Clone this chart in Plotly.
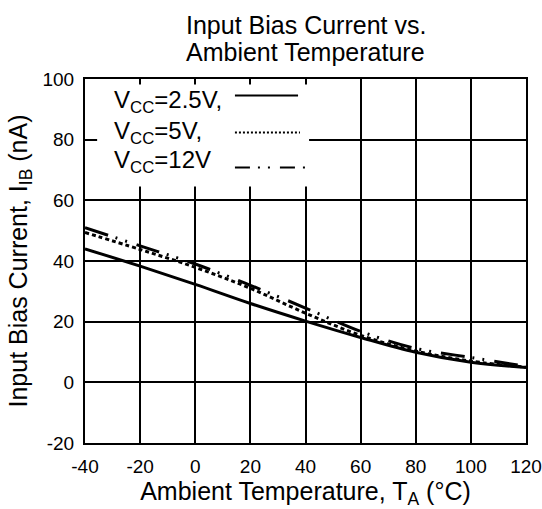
import plotly.graph_objects as go

temps = [-40, -20, 0, 20, 40, 60, 80, 100, 120]
ib_2v5 = [44.0, 38.3, 32.3, 26.0, 20.2, 14.8, 9.9, 6.6, 4.9]
ib_5v = [49.4, 43.8, 37.9, 31.0, 22.8, 15.5, 10.3, 7.0, 5.0]
ib_12v = [51.0, 45.0, 39.0, 32.0, 24.5, 16.8, 11.2, 8.2, 5.3]

x_ticks = [-40, -20, 0, 20, 40, 60, 80, 100, 120]
x_labels = ["-40", "-20", "0", "20", "40", "60", "80", "100", "120"]
y_ticks = [-20, 0, 20, 40, 60, 80, 100]
y_labels = ["-20", "0", "20", "40", "60", "80", "100"]

legend_labels = ["V<sub>CC</sub>=2.5V,", "V<sub>CC</sub>=5V,", "V<sub>CC</sub>=12V"]

FONT = "Liberation Sans"
fig = go.Figure()

fig.add_trace(go.Scatter(x=temps, y=ib_2v5, mode="lines",
                         line=dict(color="black", width=3, shape="spline"), showlegend=False))
fig.add_trace(go.Scatter(x=temps, y=ib_5v, mode="lines",
                         line=dict(color="black", width=3, dash="4px,3px", shape="spline"), showlegend=False))
fig.add_trace(go.Scatter(x=temps, y=ib_12v, mode="lines",
                         line=dict(color="black", width=3, dash="24px,8px,2px,8px,2px,10px", shape="spline"),
                         showlegend=False))

# legend box (white, covers gridlines)
fig.add_shape(type="rect", xref="x", yref="y", x0=-35.6, x1=41.3, y0=64.6, y1=98.2,
              fillcolor="white", line=dict(width=0), layer="above")

annots = []
leg_y_text = [92.6, 82.4, 72.8]
leg_y_line = [94.6, 82.4, 70.8]
leg_x1 = [37.3, 38.0, 39.8]
leg_dash = ["solid", "2px,2px", "15px,8px,2px,8px,2px,10px"]
for lbl, yt, yl, x1, d in zip(legend_labels, leg_y_text, leg_y_line, leg_x1, leg_dash):
    annots.append(dict(x=-30.2, y=yt, xref="x", yref="y", text=lbl, showarrow=False,
                       xanchor="left", yanchor="middle", font=dict(family=FONT, size=24, color="black")))
    fig.add_shape(type="line", xref="x", yref="y", x0=14.4, x1=x1, y0=yl, y1=yl,
                  line=dict(color="black", width=2, dash=d), layer="above")

annots.append(dict(x=0.5, y=1, xref="paper", yref="paper", yshift=54, text="Input Bias Current vs.",
                   showarrow=False, yanchor="middle", font=dict(family=FONT, size=25, color="black")))
annots.append(dict(x=0.5, y=1, xref="paper", yref="paper", yshift=27, text="Ambient Temperature",
                   showarrow=False, yanchor="middle", font=dict(family=FONT, size=25, color="black")))

fig.update_layout(
    annotations=annots,
    width=542, height=509,
    margin=dict(l=85, r=16, t=79, b=66, autoexpand=False),
    paper_bgcolor="white", plot_bgcolor="white",
    font=dict(family=FONT, color="black"),
    xaxis=dict(range=[-40, 120], tickvals=x_ticks, ticktext=x_labels, showgrid=True,
               gridcolor="black", gridwidth=2, automargin=False,
               showline=True, linecolor="black", linewidth=2, mirror=True, zeroline=False,
               ticks="", tickfont=dict(size=19, family=FONT), ticklabelstandoff=5,
               title=dict(text="Ambient Temperature, T<sub>A</sub> (°C)",
                          font=dict(size=25, family=FONT), standoff=4)),
    yaxis=dict(range=[-20, 100], tickvals=y_ticks, ticktext=y_labels, showgrid=True,
               gridcolor="black", gridwidth=2, automargin=False,
               showline=True, linecolor="black", linewidth=2, mirror=True, zeroline=False,
               ticks="", tickfont=dict(size=19, family=FONT), ticklabelstandoff=5,
               title=dict(text="Input Bias Current, I<sub>IB</sub> (nA)",
                          font=dict(size=25, family=FONT), standoff=8)),
)

fig.write_html("out.html", config={"displayModeBar": False},
               post_script="document.body.style.margin='0';document.body.style.overflow='hidden';")
